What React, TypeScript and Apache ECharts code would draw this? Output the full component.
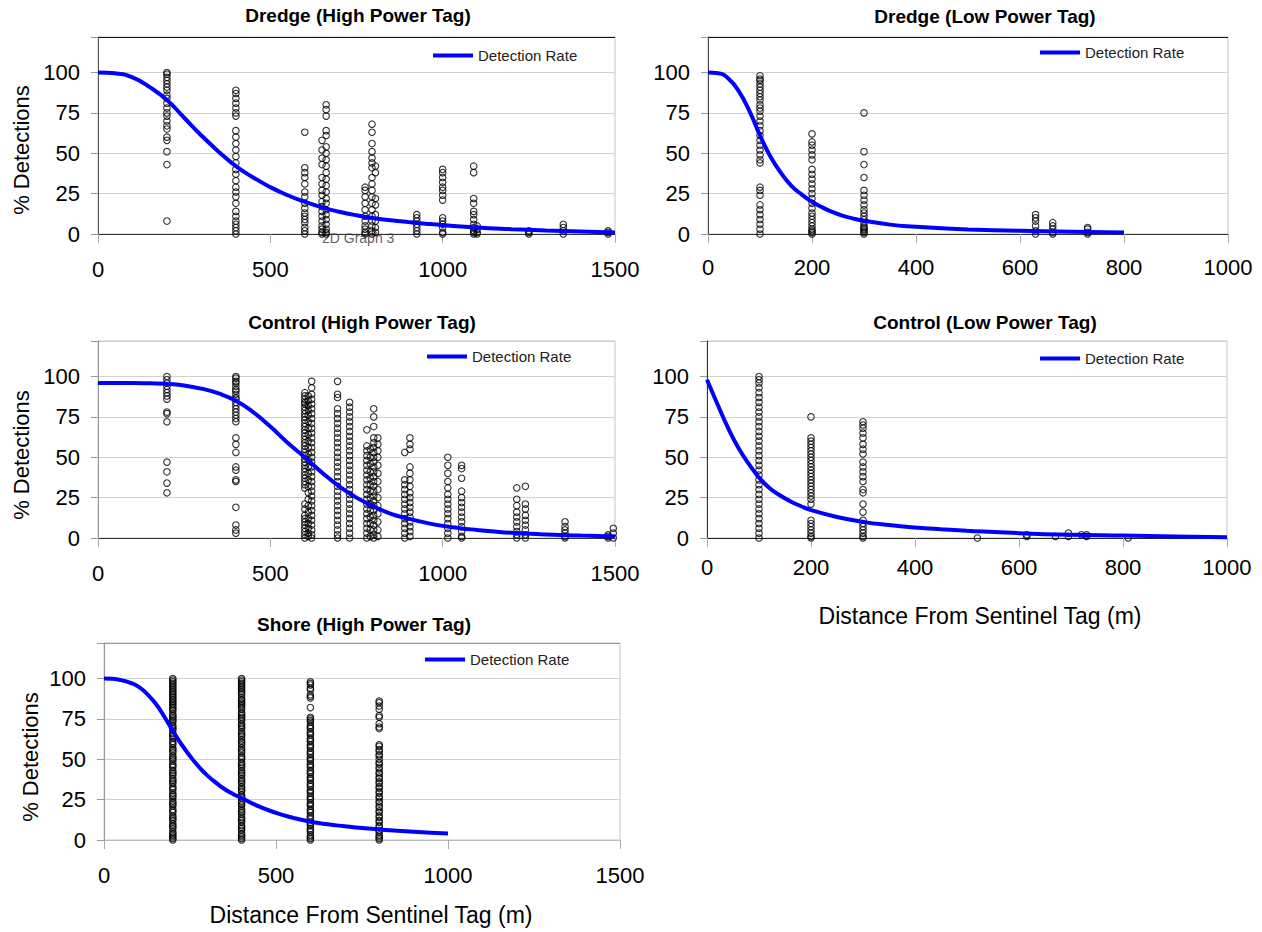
import React, { useEffect, useRef } from "react";
import * as echarts from "echarts";

const FONT = '"Liberation Sans", Arial, Helvetica, sans-serif';

// ---------- data (distance m, % detections) ----------
const xTicksLong = [0, 500, 1000, 1500];
const xTicksShort = [0, 200, 400, 600, 800, 1000];
const yTicks = [0, 25, 50, 75, 100];
const legendName = "Detection Rate";
const panelTitles = [
  "Dredge (High Power Tag)",
  "Dredge (Low Power Tag)",
  "Control (High Power Tag)",
  "Control (Low Power Tag)",
  "Shore (High Power Tag)",
];

const dredgeHighObs: [number, number[]][] = [
  [200, [100, 99, 97, 95, 93, 91, 89, 86, 84, 81, 78, 75, 73, 70, 67, 65, 60, 58, 51, 43, 8]],
  [400, [89, 87, 84, 81, 78, 75, 73, 64, 60, 56, 52, 48, 44, 40, 37, 33, 29, 26, 23, 19, 14, 11, 8, 6, 4, 2, 0]],
  [600, [63, 41, 38, 35, 31, 26, 23, 19, 16, 13, 11, 9, 7, 4, 2, 0]],
  [650, [58, 52, 47, 43, 35, 31, 27, 24, 20, 17, 14, 11, 8, 5, 3, 1, 0]],
  [662, [80, 77, 73, 64, 61, 54, 50, 46, 42, 38, 34, 30, 26, 22, 19, 15, 12, 9, 6, 3, 1, 0]],
  [775, [29, 27, 23, 19, 15, 11, 8, 5, 3, 1, 0]],
  [795, [68, 63, 56, 51, 47, 44, 41, 35, 31, 27, 23, 19, 15, 11, 8, 5, 2, 0]],
  [805, [42, 38, 22, 18, 12, 8, 4, 1]],
  [925, [12, 10, 8, 6, 4, 2, 0]],
  [1000, [40, 38, 35, 32, 29, 27, 24, 21, 10, 8, 6, 4, 1, 0]],
  [1090, [42, 38, 22, 19, 14, 12, 9, 6, 4, 2, 1, 0]],
  [1100, [5, 3, 1, 0]],
  [1250, [2, 1, 0]],
  [1350, [6, 4, 2, 0]],
  [1480, [2, 1, 0]],
];
const dredgeHighCurve: [number, number][] = [
  [0, 100], [50, 99.5], [100, 97], [150, 91], [200, 83], [250, 72], [300, 61], [350, 51],
  [400, 42], [450, 35], [500, 29], [550, 24], [600, 20], [650, 16.5], [700, 13.8], [750, 11.6],
  [800, 9.8], [850, 8.5], [900, 7.4], [950, 6.4], [1000, 5.5], [1100, 4], [1200, 3], [1300, 2.2], [1400, 1.6], [1500, 1],
];

const dredgeLowObs: [number, number[]][] = [
  [100, [98, 96, 95, 93, 91, 89, 87, 85, 83, 80, 78, 76, 73, 70, 67, 64, 61, 58, 55, 52, 49, 46, 44, 29, 27, 24, 18, 15, 12, 9, 6, 3, 0]],
  [200, [62, 57, 55, 52, 49, 46, 40, 37, 34, 31, 28, 25, 22, 19, 16, 13, 11, 9, 7, 5, 3, 2, 1, 0]],
  [300, [75, 51, 43, 35, 27, 24, 21, 18, 15, 13, 11, 9, 7, 5, 4, 3, 2, 1, 0]],
  [630, [12, 10, 8, 5, 2, 0]],
  [663, [7, 5, 3, 1, 0]],
  [730, [4, 3, 1, 0]],
];
const dredgeLowCurve: [number, number][] = [
  [0, 100], [20, 99.5], [40, 96], [60, 88], [80, 76], [100, 61], [120, 48], [140, 38],
  [160, 30], [180, 24.5], [200, 20], [220, 16.5], [240, 13.5], [260, 11.2], [280, 9.5], [300, 8.2],
  [350, 5.8], [400, 4.5], [450, 3.5], [500, 2.8], [600, 2], [700, 1.4], [800, 1],
];

const controlHighObs: [number, number[]][] = [
  [200, [100, 98, 96, 94, 92, 90, 88, 86, 78, 77, 72, 47, 41, 34, 28]],
  [400, [100, 99, 97, 96, 94, 92, 91, 89, 87, 86, 84, 82, 80, 78, 76, 74, 72, 62, 58, 53, 44, 42, 36, 35, 19, 8, 5, 3]],
  [600, [90, 88, 86, 84, 83, 81, 79, 77, 75, 73, 71, 69, 67, 65, 63, 61, 59, 57, 55, 53, 51, 49, 47, 45, 43, 41, 39, 37, 35, 33, 31, 21, 18, 14, 12, 10, 8, 6, 4, 2, 0]],
  [610, [88, 85, 82, 79, 76, 72, 68, 64, 60, 56, 52, 48, 44, 40, 36, 32, 28, 24, 20, 16, 12, 9, 6, 3, 1]],
  [620, [97, 93, 89, 86, 83, 80, 77, 74, 71, 68, 65, 62, 59, 56, 53, 50, 47, 44, 41, 38, 35, 32, 29, 26, 23, 20, 17, 14, 11, 8, 5, 2, 0]],
  [695, [97, 89, 87, 80, 77, 74, 71, 68, 65, 62, 59, 56, 53, 50, 47, 44, 41, 38, 35, 32, 29, 26, 23, 20, 17, 14, 11, 8, 5, 2, 0]],
  [730, [84, 81, 78, 75, 72, 69, 66, 63, 60, 57, 54, 51, 48, 45, 42, 39, 36, 33, 30, 27, 24, 21, 18, 15, 12, 9, 6, 3, 0]],
  [780, [67, 57, 54, 51, 48, 45, 42, 39, 36, 33, 30, 27, 24, 21, 18, 15, 12, 9, 6, 3, 0]],
  [790, [55, 50, 46, 41, 37, 33, 29, 25, 21, 17, 13, 9, 5, 1]],
  [800, [80, 75, 69, 62, 59, 56, 53, 50, 47, 44, 41, 38, 35, 32, 29, 26, 23, 20, 17, 14, 11, 8, 5, 2, 0]],
  [812, [62, 58, 54, 50, 45, 40, 35, 30, 25, 20, 15, 10, 5, 1]],
  [890, [53, 36, 33, 30, 27, 24, 21, 18, 15, 12, 9, 6, 3, 0]],
  [905, [62, 58, 55, 44, 40, 36, 32, 28, 25, 22, 19, 16, 13, 10, 7, 4, 1]],
  [1015, [50, 45, 40, 35, 31, 27, 24, 21, 18, 15, 12, 9, 6, 3, 0]],
  [1055, [45, 43, 37, 29, 25, 22, 19, 16, 13, 10, 7, 4, 1, 0]],
  [1215, [31, 24, 20, 16, 13, 10, 7, 4, 2, 0]],
  [1240, [32, 21, 18, 14, 11, 8, 5, 2, 0]],
  [1355, [10, 7, 5, 3, 1, 0]],
  [1480, [2, 1, 0]],
  [1495, [6, 3, 0]],
];
const controlHighCurve: [number, number][] = [
  [0, 96], [50, 96], [100, 96], [150, 95.8], [200, 95.5], [250, 94.5], [300, 92.5], [350, 89.5],
  [400, 85], [450, 78], [500, 69], [550, 59], [600, 50], [650, 40.5], [700, 32], [750, 25],
  [800, 19.5], [850, 15], [900, 12], [950, 9.5], [1000, 7.5], [1050, 6.1], [1100, 5], [1150, 4],
  [1200, 3.2], [1300, 2.2], [1400, 1.5], [1500, 1],
];

const controlLowObs: [number, number[]][] = [
  [100, [100, 98, 96, 93, 90, 87, 84, 81, 78, 75, 72, 69, 66, 63, 60, 57, 54, 51, 48, 45, 42, 39, 36, 33, 30, 27, 24, 21, 18, 15, 12, 9, 6, 3, 0]],
  [200, [75, 62, 60, 58, 56, 54, 52, 50, 48, 46, 44, 42, 40, 38, 36, 34, 32, 30, 28, 26, 24, 21, 11, 9, 7, 5, 3, 1, 0]],
  [300, [72, 70, 68, 65, 62, 58, 55, 52, 47, 44, 41, 38, 35, 30, 28, 21, 16, 11, 9, 7, 5, 3, 1, 0]],
  [520, [0]],
  [615, [2, 1]],
  [670, [1]],
  [695, [3, 1]],
  [720, [2]],
  [730, [2, 1]],
  [810, [0]],
];
const controlLowCurve: [number, number][] = [
  [0, 98], [20, 83], [40, 68.5], [60, 56], [80, 46], [100, 37.5], [120, 31], [140, 26.5],
  [160, 22.8], [180, 19.8], [200, 17.3], [250, 13], [300, 10], [350, 8], [400, 6.5],
  [450, 5.4], [500, 4.5], [600, 3], [700, 2], [800, 1.5], [900, 1], [1000, 0.5],
];

const shoreHighObs: [number, number[]][] = [
  [200, [100, 99, 98, 97, 96, 95, 94, 93, 92, 91, 90, 89, 88, 87, 86, 85, 84, 83, 82, 81, 80, 78, 77, 76, 75, 74, 73, 71, 70, 69, 68, 66, 65, 64, 63, 61, 60, 59, 57, 56, 55, 54, 52, 51, 50, 49, 47, 46, 45, 43, 42, 41, 40, 38, 37, 36, 35, 33, 32, 31, 29, 28, 27, 26, 24, 23, 22, 21, 19, 18, 17, 15, 14, 13, 12, 10, 9, 8, 7, 5, 4, 3, 2, 1, 0]],
  [400, [100, 99, 98, 97, 96, 95, 94, 93, 92, 91, 90, 88, 87, 86, 85, 84, 83, 82, 81, 79, 78, 77, 76, 75, 74, 72, 71, 70, 69, 67, 66, 65, 64, 62, 61, 60, 59, 57, 56, 55, 54, 52, 51, 50, 48, 47, 46, 45, 43, 42, 41, 40, 38, 37, 36, 35, 33, 32, 31, 30, 28, 27, 26, 24, 23, 22, 21, 19, 18, 17, 16, 14, 13, 12, 11, 9, 8, 7, 6, 4, 3, 2, 1, 0]],
  [600, [98, 97, 96, 94, 93, 90, 89, 88, 82, 76, 75, 74, 73, 71, 70, 69, 67, 66, 65, 63, 62, 61, 59, 58, 57, 55, 54, 53, 51, 50, 49, 47, 46, 45, 43, 42, 41, 39, 38, 37, 35, 34, 33, 31, 30, 29, 27, 26, 25, 23, 22, 21, 19, 18, 17, 15, 14, 13, 11, 10, 9, 7, 6, 5, 3, 2, 1, 0]],
  [800, [86, 85, 83, 81, 77, 76, 72, 70, 69, 59, 58, 56, 55, 53, 52, 50, 48, 47, 45, 44, 42, 41, 39, 38, 36, 35, 33, 32, 30, 29, 27, 26, 24, 23, 21, 20, 18, 17, 15, 14, 12, 11, 9, 8, 6, 5, 3, 2, 1, 0]],
];
const shoreHighCurve: [number, number][] = [
  [0, 100], [25, 99.8], [50, 99], [75, 97.5], [100, 95], [125, 90.5], [150, 84.5], [175, 76.5],
  [200, 67.5], [225, 59.3], [250, 52], [275, 45.5], [300, 40], [325, 35.5], [350, 31.6], [375, 28.5],
  [400, 26], [450, 20.8], [500, 16.8], [550, 13.7], [600, 11.3], [650, 9.7], [700, 8.5], [750, 7.4],
  [800, 6.5], [900, 5.1], [1000, 4],
];

const panelObs = [dredgeHighObs, dredgeLowObs, controlHighObs, controlLowObs, shoreHighObs];
const panelCurves = [dredgeHighCurve, dredgeLowCurve, controlHighCurve, controlLowCurve, shoreHighCurve];
const panelXTicks = [xTicksLong, xTicksShort, xTicksLong, xTicksShort, xTicksLong];

// ---------- layout (pixels) ----------
const layout = [
  { left: 98, top: 37, width: 517, height: 197, labelMargin: 24, titleX: 358, titleY: 15, legendLeft: 433, legendTop: 48, topLine: "#111", axisColor: "#333", yAxisColor: "#555" },
  { left: 708, top: 37, width: 520, height: 197, labelMargin: 22, titleX: 985, titleY: 16, legendLeft: 1040, legendTop: 45, topLine: "#111", axisColor: "#333", yAxisColor: "#444" },
  { left: 98, top: 341, width: 517, height: 197, labelMargin: 24, titleX: 362, titleY: 322, legendLeft: 427, legendTop: 349, topLine: "#cfcfcf", axisColor: "#333", yAxisColor: "#999" },
  { left: 707, top: 341, width: 520, height: 197, labelMargin: 18, titleX: 985, titleY: 322, legendLeft: 1040, legendTop: 351, topLine: "#cfcfcf", axisColor: "#222", yAxisColor: "#333" },
  { left: 104, top: 643, width: 516, height: 197, labelMargin: 24, titleX: 364, titleY: 624, legendLeft: 425, legendTop: 652, topLine: "#999", axisColor: "#bbb", yAxisColor: "#999" },
];

const Y_MAX = 122;

export default function App() {
  const ref = useRef<HTMLDivElement>(null);

  useEffect(() => {
    if (!ref.current) return;
    const chart = echarts.init(ref.current, undefined, { renderer: "svg" });

    const grid = layout.map((l) => ({
      left: l.left,
      top: l.top,
      width: l.width,
      height: l.height,
      show: true,
      borderColor: "#c4c4c4",
      borderWidth: 1,
      backgroundColor: "transparent",
      containLabel: false,
      outerBoundsMode: "none",
    }));

    const xAxis = layout.map((l, i) => {
      const ticks = panelXTicks[i];
      return {
        type: "value",
        gridIndex: i,
        min: ticks[0],
        max: ticks[ticks.length - 1],
        interval: ticks[1] - ticks[0],
        axisLine: { show: true, onZero: false, lineStyle: { color: l.axisColor, width: 1 } },
        axisTick: { show: true, inside: false, length: 9, lineStyle: { color: "#aaa" } },
        axisLabel: {
          fontSize: 22,
          color: "#000",
          fontFamily: FONT,
          margin: l.labelMargin,
          formatter: (v: number) => String(v),
        },
        splitLine: { show: false },
      };
    });

    const yAxis = layout.map((l, i) => ({
      type: "value",
      gridIndex: i,
      min: yTicks[0],
      max: Y_MAX,
      interval: yTicks[1] - yTicks[0],
      axisLine: { show: true, lineStyle: { color: l.yAxisColor, width: 1 } },
      axisTick: { show: true, inside: false, length: 7, lineStyle: { color: "#999" } },
      axisLabel: {
        fontSize: 22,
        color: "#000",
        fontFamily: FONT,
        margin: 18,
        formatter: (v: number) => (v > 100 ? "" : String(v)),
      },
      splitLine: {
        show: true,
        lineStyle: { color: ["#d2d2d2", "#d2d2d2", "#d2d2d2", "#d2d2d2", "#d2d2d2", l.topLine], width: 1 },
      },
    }));

    const series: any[] = [];
    panelObs.forEach((obs, i) => {
      series.push({
        type: "scatter",
        name: "obs" + i,
        xAxisIndex: i,
        yAxisIndex: i,
        symbol: "circle",
        symbolSize: 6.5,
        itemStyle: { color: "rgba(255,255,255,0)", borderColor: "#000", borderWidth: 1.1 },
        data: obs.flatMap(([x, ys]) => ys.map((y) => [x, y])),
        z: 2,
      });
    });
    panelCurves.forEach((curve, i) => {
      series.push({
        type: "line",
        name: legendName,
        xAxisIndex: i,
        yAxisIndex: i,
        smooth: 0.5,
        showSymbol: false,
        symbol: "none",
        lineStyle: { color: "#0000ff", width: 4 },
        itemStyle: { color: "#0000ff" },
        data: curve,
        z: 3,
      });
    });

    const legend = layout.map((l) => ({
      data: [legendName],
      left: l.legendLeft,
      top: l.legendTop,
      padding: 0,
      icon: "rect",
      itemWidth: 40,
      itemHeight: 4,
      selectedMode: false,
      textStyle: { fontSize: 15, color: "#222", fontFamily: FONT },
    }));

    const graphic: any[] = [];
    layout.forEach((l, i) => {
      graphic.push({
        type: "text",
        x: l.titleX,
        y: l.titleY,
        style: {
          text: panelTitles[i],
          font: `bold 19px ${FONT}`,
          fill: "#000",
          align: "center",
          verticalAlign: "middle",
          textAlign: "center",
          textVerticalAlign: "middle",
        },
      });
    });
    const yNames = [
      { x: 21, y: 150 },
      { x: 21, y: 455 },
      { x: 30, y: 757 },
    ];
    yNames.forEach((p) => {
      graphic.push({
        type: "text",
        x: p.x,
        y: p.y,
        rotation: Math.PI / 2,
        style: {
          text: "% Detections",
          font: `22px ${FONT}`,
          fill: "#000",
          align: "center",
          verticalAlign: "middle",
          textAlign: "center",
          textVerticalAlign: "middle",
        },
      });
    });
    const xNames = [
      { x: 980, y: 616 },
      { x: 371, y: 915 },
    ];
    xNames.forEach((p) => {
      graphic.push({
        type: "text",
        x: p.x,
        y: p.y,
        style: {
          text: "Distance From Sentinel Tag (m)",
          font: `23px ${FONT}`,
          fill: "#000",
          align: "center",
          verticalAlign: "middle",
          textAlign: "center",
          textVerticalAlign: "middle",
        },
      });
    });
    graphic.push({
      type: "text",
      x: 322,
      y: 238,
      z: -1,
      style: {
        text: "2D Graph 3",
        font: `14px ${FONT}`,
        fill: "#666",
        align: "left",
        verticalAlign: "middle",
        textAlign: "left",
        textVerticalAlign: "middle",
      },
    });

    chart.setOption({
      animation: false,
      backgroundColor: "#fff",
      textStyle: { fontFamily: FONT },
      grid,
      xAxis,
      yAxis,
      legend,
      series,
      graphic,
    });

    return () => {
      chart.dispose();
    };
  }, []);

  return (
    <div
      ref={ref}
      style={{ position: "fixed", left: 0, top: 0, width: 1262, height: 932, background: "#fff" }}
    />
  );
}
